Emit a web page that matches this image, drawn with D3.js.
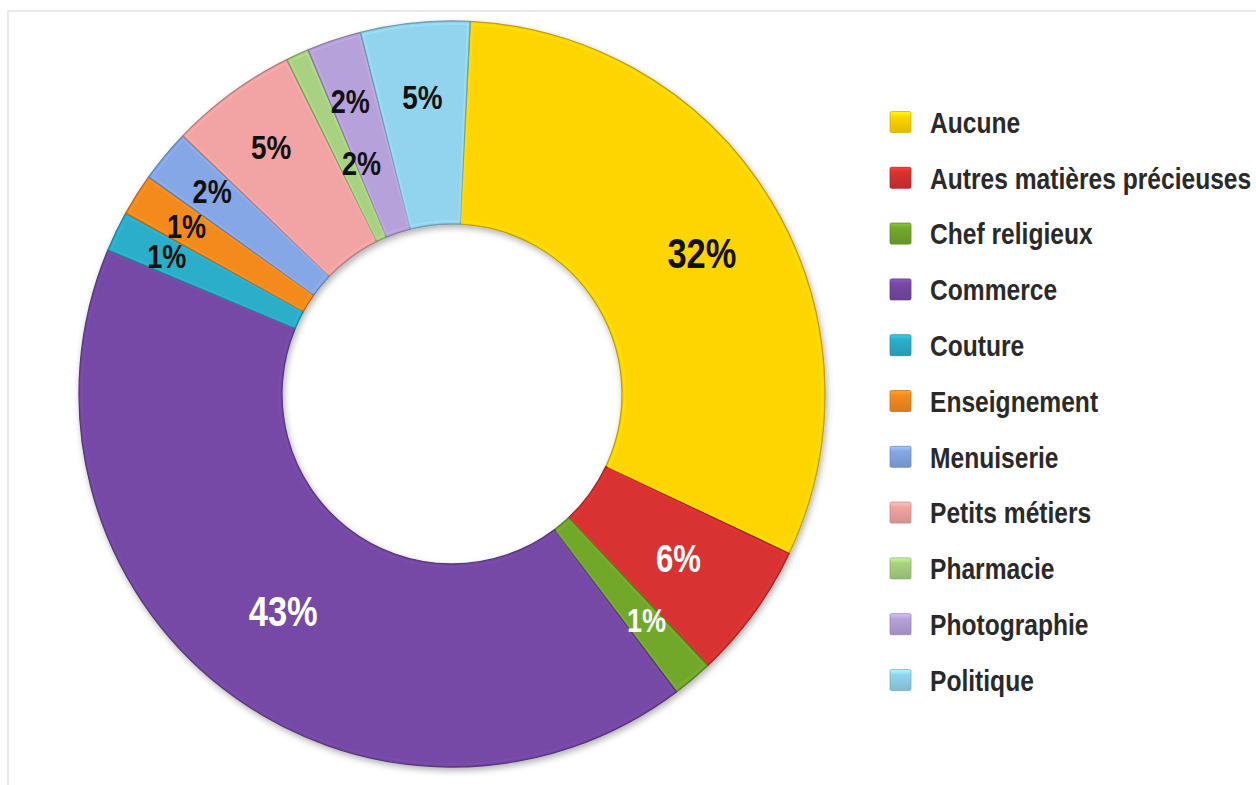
<!DOCTYPE html>
<html>
<head>
<meta charset="utf-8">
<script src="https://cdn.jsdelivr.net/npm/d3@7"></script>
<style>
  html, body { margin: 0; padding: 0; background: #ffffff; }
  svg { display: block; }
</style>
</head>
<body>
<svg id="chart" width="1256" height="785"></svg>
<script>
// ---- data ----
const categories = ["Aucune", "Autres matières précieuses", "Chef religieux", "Commerce", "Couture",
  "Enseignement", "Menuiserie", "Petits métiers", "Pharmacie", "Photographie", "Politique"];
// slice shares (percent of the ring) as measured on the picture
const values = [31.25, 5.94, 1.75, 41.58, 1.75, 1.83, 2.28, 5.53, 1.0, 2.36, 4.72];
// data label texts as printed on the chart
const labels = ["32%", "6%", "1%", "43%", "1%", "1%", "2%", "5%", "2%", "2%", "5%"];
const colors = ["#FFD500", "#D83131", "#72A82C", "#7549A5", "#2AAECA", "#F58A1F",
  "#85A7E5", "#F2A3A3", "#A8D281", "#B7A1DA", "#92D4EE"];

// ---- layout / style ----
const W = 1256, H = 785;
const cx = 452, cy = 394, rOuter = 373, rInner = 170;
const startDeg = 2.8;
const labelRadius = [287, 280, 298, 275, 317, 314, 314, 306, 248, 310, 299];
const labelAngleShift = [1.5, 0, -0.6, 0, 0, 0, 0.5, 0, 3.1, -0.7, 0];
const labelSize = [42, 38, 33, 42, 33, 33, 33, 34, 33, 33, 34];
const labelColor = ["#111", "#fff", "#fff", "#fff", "#111", "#111", "#111", "#111", "#111", "#111", "#111"];

const svg = d3.select("#chart");
const defs = svg.append("defs");

const shadow = defs.append("filter").attr("id", "shadow")
  .attr("x", "-10%").attr("y", "-10%").attr("width", "120%").attr("height", "120%");
shadow.append("feDropShadow").attr("dx", 1.5).attr("dy", 3).attr("stdDeviation", 3)
  .attr("flood-color", "#000").attr("flood-opacity", 0.3);

// legend bevel gradients
colors.forEach((c, i) => {
  const g = defs.append("linearGradient").attr("id", "lg" + i)
    .attr("x1", 0).attr("y1", 0).attr("x2", 0).attr("y2", 1);
  g.append("stop").attr("offset", "0%").attr("stop-color", d3.color(c).brighter(0.5));
  g.append("stop").attr("offset", "25%").attr("stop-color", c);
  g.append("stop").attr("offset", "100%").attr("stop-color", d3.color(c).darker(0.35));
});

// frame
svg.append("rect").attr("x", 8).attr("y", 11).attr("width", W + 20).attr("height", H + 20)
  .attr("fill", "none").attr("stroke", "#e3e3e3").attr("stroke-width", 1.5);

// font check: use Liberation Sans Narrow if present, otherwise compress Liberation Sans
function measure(fam) {
  const t = svg.append("text").attr("font-family", fam).attr("font-size", 30)
    .attr("font-weight", "bold").text("Autres matières précieuses");
  const w = t.node().getComputedTextLength();
  t.remove();
  return w;
}
const wideFam = "'Liberation Sans', Arial, sans-serif";
const narrowFam = "'Liberation Sans Narrow', 'Liberation Sans', Arial, sans-serif";
const wNarrow = measure(narrowFam);
const wWide = measure(wideFam);
const hasNarrow = wNarrow < wWide * 0.92;
const fontFam = hasNarrow ? narrowFam : wideFam;
const sx = hasNarrow ? 1 : 0.82;

// ---- donut ----
const rad = Math.PI / 180;
const pie = d3.pie().sort(null).value(d => d.value)
  .startAngle(startDeg * rad).endAngle(startDeg * rad + 2 * Math.PI);
const data = categories.map((c, i) => ({ name: c, value: values[i], i }));
const arcs = pie(data);
const arc = d3.arc().innerRadius(rInner).outerRadius(rOuter);

const g = svg.append("g").attr("transform", `translate(${cx},${cy})`);
const ring = g.append("g").attr("filter", "url(#shadow)");
ring.selectAll("path.slice").data(arcs).enter().append("path")
  .attr("class", "slice")
  .attr("d", arc)
  .attr("fill", d => colors[d.data.i])
  .attr("stroke", d => d3.color(colors[d.data.i]).darker(0.8))
  .attr("stroke-width", 1.3)
  .attr("stroke-linejoin", "round");

// subtle inner bevel highlight
const arcIn = d3.arc().innerRadius(rInner + 3).outerRadius(rOuter - 3);
g.selectAll("path.bevel").data(arcs).enter().append("path")
  .attr("class", "bevel")
  .attr("d", d => arcIn({ startAngle: d.startAngle + 0.006, endAngle: d.endAngle - 0.006 }))
  .attr("fill", "none")
  .attr("stroke", d => d3.color(colors[d.data.i]).brighter(0.25))
  .attr("stroke-opacity", 0.5)
  .attr("stroke-width", 2);

// data labels
g.selectAll("text.lab").data(arcs).enter().append("text")
  .attr("class", "lab")
  .attr("transform", d => {
    const i = d.data.i;
    const a = (d.startAngle + d.endAngle) / 2 + labelAngleShift[i] * rad;
    const r = labelRadius[i];
    const x = r * Math.sin(a), y = -r * Math.cos(a) + labelSize[i] * 0.36;
    return `translate(${x},${y}) scale(${sx},1)`;
  })
  .attr("text-anchor", "middle")
  .attr("font-family", fontFam)
  .attr("font-weight", "bold")
  .attr("font-size", d => labelSize[d.data.i])
  .attr("fill", d => labelColor[d.data.i])
  .text(d => labels[d.data.i]);

// ---- legend ----
const legY = d3.scalePoint().domain(categories).range([122, 680]);
const leg = svg.append("g");
const items = leg.selectAll("g.item").data(categories).enter().append("g")
  .attr("class", "item")
  .attr("transform", d => `translate(0,${legY(d)})`);
items.append("rect")
  .attr("x", 890).attr("y", -10.5).attr("width", 21).attr("height", 21)
  .attr("rx", 1.5)
  .attr("fill", (d, i) => `url(#lg${i})`)
  .attr("stroke", (d, i) => d3.color(colors[i]).darker(0.5))
  .attr("stroke-width", 0.8);
items.append("text")
  .attr("transform", `translate(930,10.8) scale(${sx},1)`)
  .attr("font-family", fontFam)
  .attr("font-weight", "bold")
  .attr("font-size", 30)
  .attr("fill", "#2a2a2a")
  .text(d => d);
</script>
</body>
</html>
